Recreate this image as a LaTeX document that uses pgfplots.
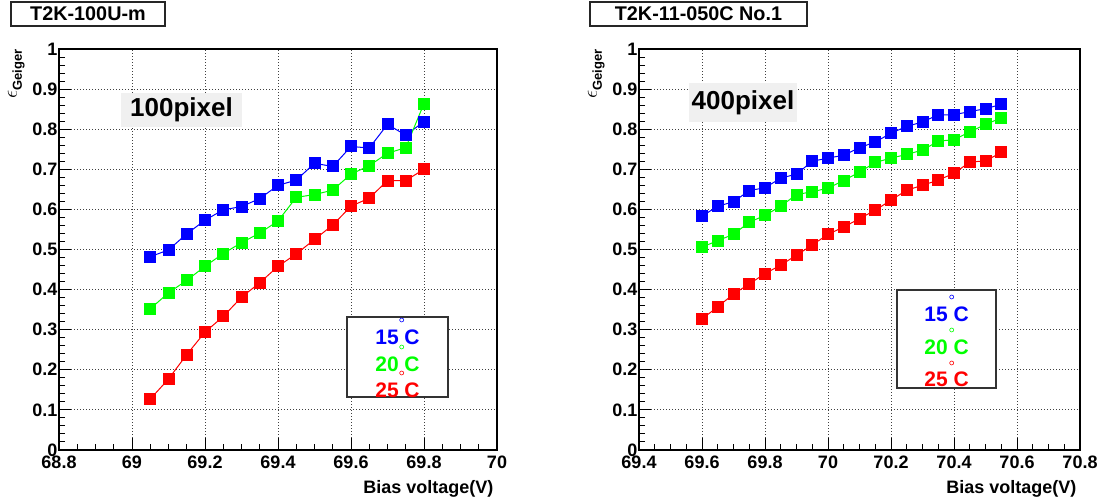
\documentclass[border=0pt]{standalone}
\usepackage{fontspec}
\setmainfont{Liberation Sans}
\usepackage{pgfplots}
\pgfplotsset{compat=1.18}

\tikzset{fs/.style={font=\fontsize{#1}{#1}\selectfont\bfseries}}
\pgfplotsset{
  rootaxis/.style={
    scale only axis, height=401pt,
    ymin=0, ymax=1,
    ytick={0,0.1,0.2,0.3,0.4,0.5,0.6,0.7,0.8,0.9,1},
    minor y tick num=4, minor x tick num=3,
    tick align=inside, tick pos=left,
    major tick length=12pt, minor tick length=6pt,
    major tick style={black, line width=1pt},
    minor tick style={black, line width=1pt},
    grid=major,
    major grid style={black!75, line width=0.8pt, dash pattern=on 1pt off 2pt},
    axis line style={line width=1.3pt},
    ticklabel style={font=\fontsize{18}{18}\selectfont\bfseries},
    /pgf/number format/assume math mode=true,
    xticklabel style={inner sep=1pt, yshift=-5pt},
    yticklabel style={inner sep=1.5pt},
    xlabel={Bias voltage(V)},
    xlabel style={at={(axis description cs:1,0)}, anchor=base east, yshift=-43pt,
      font=\fontsize{18}{18}\selectfont\bfseries},
    ylabel={{\fontsize{21}{21}\selectfont$\epsilon$}\raisebox{-5pt}{\fontsize{13}{13}\selectfont\bfseries Geiger}},
    ylabel style={at={(axis description cs:-0.078,1)}, anchor=south east, inner sep=0pt},
    every axis plot/.append style={line width=1pt, mark=square*, mark size=5.5pt},
  },
}

\begin{document}
\begin{tikzpicture}
\useasboundingbox (0,0) rectangle (1097pt,503pt);

% left panel
\begin{axis}[rootaxis, at={(59pt,53pt)}, anchor=south west, width=438pt,
  xmin=68.8, xmax=70, xtick={68.8,69,69.2,69.4,69.6,69.8,70}]
\addplot[blue] coordinates {
(69.05,0.482)(69.10,0.499)(69.15,0.539)(69.20,0.573)(69.25,0.599)(69.30,0.607)
(69.35,0.627)(69.40,0.660)(69.45,0.673)(69.50,0.715)(69.55,0.707)(69.60,0.757)
(69.65,0.753)(69.70,0.812)(69.75,0.785)(69.80,0.819)};
\addplot[green] coordinates {
(69.05,0.352)(69.10,0.392)(69.15,0.423)(69.20,0.458)(69.25,0.490)(69.30,0.517)
(69.35,0.541)(69.40,0.571)(69.45,0.630)(69.50,0.637)(69.55,0.648)(69.60,0.688)
(69.65,0.709)(69.70,0.740)(69.75,0.754)(69.80,0.864)};
\addplot[red] coordinates {
(69.05,0.127)(69.10,0.177)(69.15,0.238)(69.20,0.294)(69.25,0.333)(69.30,0.381)
(69.35,0.417)(69.40,0.458)(69.45,0.489)(69.50,0.525)(69.55,0.561)(69.60,0.608)
(69.65,0.628)(69.70,0.672)(69.75,0.672)(69.80,0.700)};
\end{axis}

% right panel
\begin{axis}[rootaxis, at={(639pt,53pt)}, anchor=south west, width=441pt,
  xmin=69.4, xmax=70.8, xtick={69.4,69.6,69.8,70,70.2,70.4,70.6,70.8},
  ylabel style={at={(axis description cs:-0.0775,1)}}]
\addplot[blue] coordinates {
(69.60,0.583)(69.65,0.608)(69.70,0.619)(69.75,0.647)(69.80,0.654)(69.85,0.678)
(69.90,0.688)(69.95,0.720)(70.00,0.728)(70.05,0.735)(70.10,0.754)(70.15,0.768)
(70.20,0.790)(70.25,0.807)(70.30,0.818)(70.35,0.836)(70.40,0.836)(70.45,0.844)
(70.50,0.851)(70.55,0.862)};
\addplot[green] coordinates {
(69.60,0.506)(69.65,0.522)(69.70,0.538)(69.75,0.568)(69.80,0.585)(69.85,0.608)
(69.90,0.637)(69.95,0.644)(70.00,0.653)(70.05,0.672)(70.10,0.693)(70.15,0.717)
(70.20,0.728)(70.25,0.737)(70.30,0.748)(70.35,0.770)(70.40,0.774)(70.45,0.793)
(70.50,0.812)(70.55,0.828)};
\addplot[red] coordinates {
(69.60,0.327)(69.65,0.357)(69.70,0.389)(69.75,0.414)(69.80,0.440)(69.85,0.461)
(69.90,0.486)(69.95,0.511)(70.00,0.538)(70.05,0.556)(70.10,0.577)(70.15,0.598)
(70.20,0.623)(70.25,0.648)(70.30,0.660)(70.35,0.673)(70.40,0.690)(70.45,0.718)
(70.50,0.721)(70.55,0.742)};
\end{axis}

% titles
\node[draw=black!85, line width=1.2pt, minimum width=154pt, minimum height=24pt, inner sep=0pt,
  fs=19.8] at (88pt,489pt) {T2K-100U-m};
\node[draw=black!85, line width=1.2pt, minimum width=217pt, minimum height=24pt, inner sep=0pt,
  fs=19.8] at (698.5pt,489pt) {T2K-11-050C No.1};

% pixel labels
\node[fill=black!6, minimum width=121pt, minimum height=34pt, inner sep=0pt, fs=26]
  at (181.5pt,393pt) {100pixel};
\node[fill=black!6, minimum width=108pt, minimum height=39pt, inner sep=0pt, fs=26]
  at (743pt,400.5pt) {400pixel};

% legends
\node[draw=black!80, line width=1.2pt, fill=white, minimum width=101pt, minimum height=80pt]
  at (397.5pt,146pt) {};
\node[anchor=base, blue, fs=21] at (397.5pt,158pt) {15 C};
\node[anchor=base, green, fs=21] at (397.5pt,131pt) {20 C};
\node[anchor=base, red, fs=21] at (397.5pt,105pt) {25 C};
\draw[blue, line width=0.6pt] (401.7pt,183pt) circle (2pt);
\draw[green, line width=0.6pt] (401.7pt,156pt) circle (2pt);
\draw[red, line width=0.6pt] (401.7pt,130pt) circle (2pt);

\node[draw=black!80, line width=1.2pt, fill=white, minimum width=99pt, minimum height=98pt]
  at (946.5pt,164pt) {};
\node[anchor=base, blue, fs=21] at (946.5pt,181pt) {15 C};
\node[anchor=base, green, fs=21] at (946.5pt,148pt) {20 C};
\node[anchor=base, red, fs=21] at (946.5pt,116pt) {25 C};
\draw[blue, line width=0.6pt] (951.7pt,206pt) circle (2pt);
\draw[green, line width=0.6pt] (951.7pt,173pt) circle (2pt);
\draw[red, line width=0.6pt] (951.7pt,140pt) circle (2pt);
\end{tikzpicture}
\end{document}
